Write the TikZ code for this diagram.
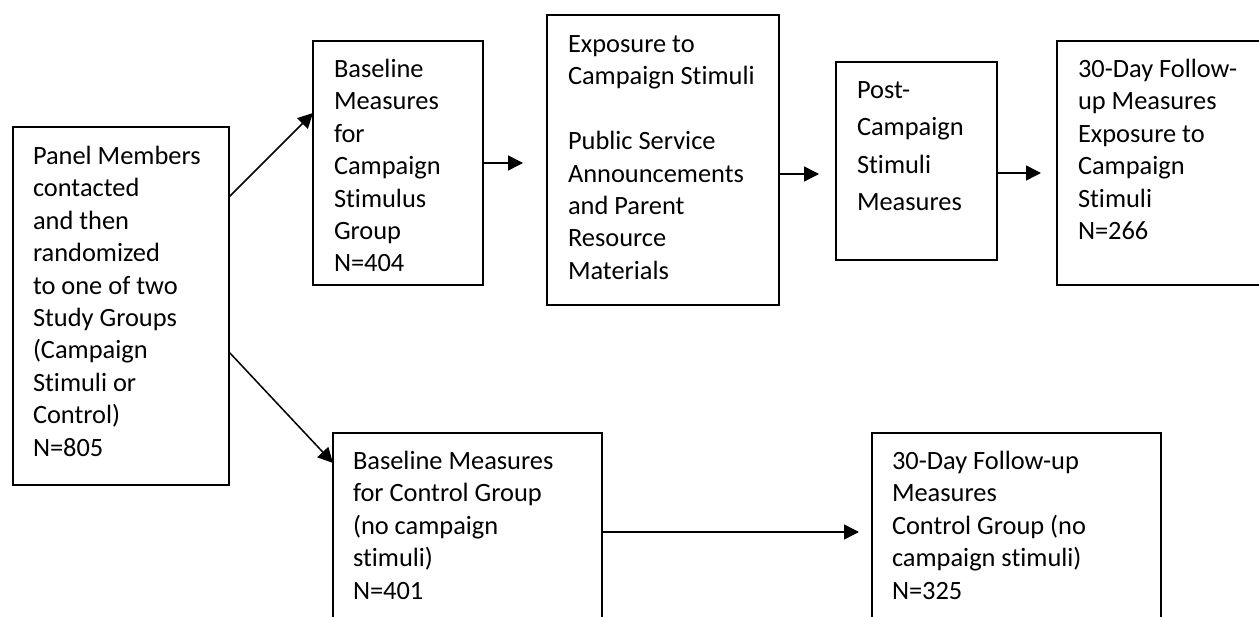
\documentclass[tikz,border=0pt]{standalone}
\usepackage{fontspec}
\setmainfont{Carlito}[Ligatures=NoCommon]
\usetikzlibrary{arrows.meta}
\newcommand\myfs{\fontsize{26.4pt}{32.4pt}\selectfont}
\newcommand\mystrut{\rule{0pt}{22pt}}
\tikzset{
  box/.style={draw, line width=1.8pt, inner sep=0pt, outer sep=0pt, anchor=north west},
  txt/.style={anchor=north west, inner sep=0pt, outer sep=0pt, align=left, font=\myfs},
  arr/.style={line width=1.5pt, -{Triangle[length=15pt,width=15pt]}},
}
\begin{document}
\begin{tikzpicture}[x=1pt,y=-1pt]
\useasboundingbox (0,0) rectangle (1259,617);
\clip (0,0) rectangle (1259,617);
\fill[white] (0,0) rectangle (1259,617);
% boxes
\node[box, minimum width=216pt, minimum height=358pt] (L) at (13,127) {};
\node[box, minimum width=170pt, minimum height=244pt] (B1) at (313,41) {};
\node[box, minimum width=232pt, minimum height=290pt] (E) at (547,15) {};
\node[box, minimum width=161pt, minimum height=198pt] (P) at (836,62) {};
\node[box, minimum width=215pt, minimum height=244pt] (F) at (1057,41) {};
\node[box, minimum width=269pt, minimum height=200pt] (C1) at (333,433) {};
\node[box, minimum width=289pt, minimum height=200pt] (C2) at (872,433) {};
% texts
\node[txt] (tL) at (33,142.5) {\mystrut Panel Members\\contacted\\and then\\randomized\\to one of two\\Study Groups\\(Campaign\\Stimuli or\\Control)\\N=805};
\node[txt] (tB1) at (334,55.5) {\mystrut Baseline\\Measures\\for\\Campaign\\Stimulus\\Group\\N=404};
\node[txt] (tE) at (568,30.5) {\mystrut Exposure to\\Campaign Stimuli\\[32.4pt]Public Service\\Announcements\\and Parent\\Resource\\Materials};
\node[txt, font=\fontsize{26.4pt}{37.3pt}\selectfont] (tP) at (857,76.5) {\mystrut Post-\\Campaign\\Stimuli\\Measures};
\node[txt] (tF) at (1078,55.5) {\mystrut 30-Day Follow-\\up Measures\\Exposure to\\Campaign\\Stimuli\\N=266};
\node[txt] (tC1) at (353,447.5) {\mystrut Baseline Measures\\for Control Group\\(no campaign\\stimuli)\\N=401};
\node[txt] (tC2) at (892,447.5) {\mystrut 30-Day Follow-up\\Measures\\Control Group (no\\campaign stimuli)\\N=325};
% connector anchors
\coordinate (lu) at ([yshift=-70pt]L.north east);
\coordinate (bu) at ([yshift=-72pt]B1.north west);
\coordinate (ld) at ([yshift=133pt]L.south east);
\coordinate (cd) at ([yshift=-30pt]C1.north west);
\coordinate (e1) at ([yshift=-159pt]E.north east);
\coordinate (p1) at ([yshift=-111pt]P.north east);
\coordinate (c1) at ([yshift=-99pt]C1.north east);
% connectors
\draw[arr] (lu) -- (bu);
\draw[arr] (ld) -- (cd);
\draw[arr, shorten >=24pt] (B1.east) -- (B1.east -| E.west);
\draw[arr, shorten >=17pt] (e1) -- (e1 -| P.west);
\draw[arr, shorten >=16pt] (p1) -- (p1 -| F.west);
\draw[arr, shorten >=13pt] (c1) -- (c1 -| C2.west);
\end{tikzpicture}
\end{document}
